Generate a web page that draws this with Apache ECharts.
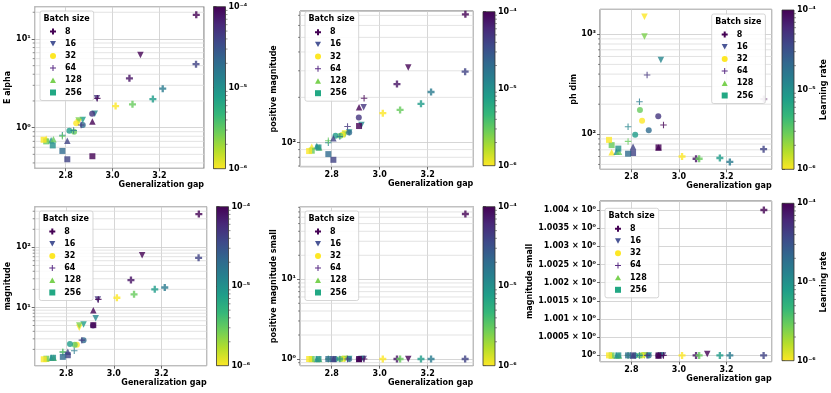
<!DOCTYPE html>
<html>
<head>
<meta charset="utf-8">
<script src="https://cdn.jsdelivr.net/npm/echarts@6/dist/echarts.min.js"></script>
<style>
html, body { margin: 0; padding: 0; background: #fff; }
#main { width: 831px; height: 393px; }
</style>
</head>
<body>
<div id="main"></div>
<script>
// one entry per training run
const gap = [3.357, 3.356, 3.072, 3.214, 3.172, 3.085, 3.013,
    3.119, 2.933, 2.924, 2.873, 2.855, 2.855,
    2.913, 2.873, 2.845, 2.836, 2.816,
    2.935, 2.866, 2.834, 2.786, 2.786,
    2.914, 2.807, 2.717, 2.738, 2.748,
    2.914, 2.807, 2.786, 2.745, 2.717, 2.706]
const batch = [8, 8, 8, 8, 8, 8, 8,
    16, 16, 16, 16, 16, 16,
    32, 32, 32, 32, 32,
    64, 64, 64, 64, 64,
    128, 128, 128, 128, 128,
    256, 256, 256, 256, 256, 256]
const lr = [1e-4, 4e-5, 8e-5, 1.5e-5, 8e-6, 3e-6, 1e-6,
    1e-4, 5e-5, 1.2e-5, 8e-6, 1e-6, 2.5e-6,
    5e-5, 2e-5, 1e-6, 3e-6, 8e-6,
    1e-4, 5e-5, 1.5e-5, 1.2e-5, 3e-6,
    1e-4, 4e-5, 1e-6, 1e-5, 3e-6,
    1e-4, 4e-5, 2e-5, 1e-5, 3e-6, 1e-6]
const eAlpha = [18.7, 5.2, 3.6, 2.75, 2.1, 1.83, 1.75,
    6.6, 2.15, 1.43, 1.22, 1.15, 1.2,
    1.43, 1.07, 1.12, 0.9, 0.925,
    2.14, 1.07, 0.93, 0.82, 0.8,
    1.17, 0.71, 0.75, 0.72, 0.74,
    0.476, 0.44, 0.546, 0.63, 0.7, 0.73]
const posMag = [711, 296, 245, 217, 181, 165, 157,
    316, 172, 131, 117, 115, 113,
    147, 117, 113, 111, 111,
    197, 128, 110, 100, 103,
    172, 107, 94, 95, 93,
    129, 77, 84, 93, 88.5, 88]
const phDim = [225, 71, 57, 53, 58, 57, 60,
    40, 40, 554, 40, 1500, 950,
    152, 110, 137, 175, 99,
    124, 392, 212, 119, 85,
    74, 75, 66, 67, 67,
    74, 65, 64, 72, 78, 88]
const magnitude = [359, 67, 28.5, 21.5, 20, 16.5, 14.5,
    74, 13.6, 6.6, 5.2, 4.6, 5.0,
    5.0, 2.85, 2.4, 2.4, 2.45,
    13.6, 2.85, 1.9, 1.8, 1.82,
    9.0, 1.82, 1.4, 1.45, 1.45,
    5.07, 1.6, 1.5, 1.45, 1.4, 1.37]
const posMagSmall = [66, 1, 1, 1, 1, 1, 1,
    1, 1, 1, 1, 1, 1,
    1, 1, 1, 1, 1,
    1, 1, 1, 1, 1,
    1, 1, 1, 1, 1,
    1, 1, 1, 1, 1, 1]
const magSmall = [1.004, 1, 1, 1, 1, 1, 1,
    1.00004, 1, 1, 1, 1, 1,
    1, 1, 1, 1, 1,
    1, 1, 1, 1, 1,
    1, 1, 1, 1, 1,
    1, 1, 1, 1, 1, 1]

const batchSizes = [8, 16, 32, 64, 128, 256]
const gapRange = [2.668, 3.39]
const lrRange = [1e-6, 1e-4]

const FONT = 'DejaVu Sans'
const viridis = ['#440154', '#482878', '#3e4989', '#31688e', '#26828e', '#1f9e89', '#35b779', '#6ece58', '#b5de2b', '#fde725']
const legendColors = ['#440154', '#4a5696', '#fde725', '#5b2d86', '#7ad151', '#22a884']
const symbols = {
    8: 'path://M4,0H8V4H12V8H8V12H4V8H0V4H4Z',
    16: 'path://M0,0H10L5,9Z',
    32: 'circle',
    64: 'path://M5,0H7V5H12V7H7V12H5V7H0V5H5Z',
    128: 'path://M5,0L10,9H0Z',
    256: 'rect'
}
const sizes = { 8: 7, 16: 6.5, 32: 6, 64: 6.5, 128: 6.5, 256: 6 }

const panels = [
    { name: 'E alpha', values: eAlpha, grid: [34.7, 6.7, 169.3, 161.6], y: [0.348, 23.1], legend: [40, 11], bar: [213.5, 6.7, 12, 162], nameGap: 22 },
    { name: 'positive magnitude', values: posMag, grid: [300, 11, 173.3, 155.7], y: [69.3, 748], legend: [305, 11.7], bar: [483, 11.7, 12, 154], nameGap: 22 },
    { name: 'ph dim', values: phDim, grid: [600, 9.3, 171.7, 160], y: [44.7, 1778], legend: [711.7, 14], bar: [782, 10, 12, 159.3], nameGap: 22, barName: 'Learning rate', faded: [0] },
    { name: 'magnitude', values: magnitude, grid: [34.7, 206.7, 172, 159], y: [1.07, 476], legend: [39.3, 211], bar: [216.5, 206.7, 12, 159], nameGap: 23 },
    { name: 'positive magnitude small', values: posMagSmall, grid: [300, 206.7, 173.3, 159], y: [0.824, 81.4], legend: [305, 211], bar: [483, 206.7, 12, 159], nameGap: 21 },
    { name: 'magnitude small', values: magSmall, grid: [600, 201, 171.7, 160.7], y: [0.999826, 1.004248], linear: true, legend: [605, 208.3], bar: [782, 203.3, 12, 157.4], nameGap: 64, barName: 'Learning rate' }
]

const SUP = { '-': '⁻', '0': '⁰', '1': '¹', '2': '²', '3': '³', '4': '⁴', '5': '⁵', '6': '⁶', '7': '⁷', '8': '⁸', '9': '⁹' }
function sup(n) {
    return String(n).split('').map(c => SUP[c]).join('')
}
function logLabel(v) {
    return '10' + sup(Math.round(Math.log10(v)))
}
function minorValues(lo, hi) {
    let out = []
    for (let e = Math.floor(Math.log10(lo)); e <= Math.ceil(Math.log10(hi)); e++) {
        for (let m = 2; m <= 9; m++) {
            let v = m * Math.pow(10, e)
            if (v > lo && v < hi) out.push(v)
        }
    }
    return out
}

const labelStyle = { fontFamily: FONT, fontWeight: 'bold', fontSize: 8, color: '#000' }

let grids = [], xAxes = [], yAxes = [], series = [], legends = [], graphics = [], scatterIdx = []

panels.forEach((p, k) => {
    const g = k * 2, cb = k * 2 + 1
    grids.push({ left: p.grid[0], top: p.grid[1], width: p.grid[2], height: p.grid[3], show: true, borderColor: '#444', borderWidth: 0.8, backgroundColor: '#fff' })
    grids.push({ left: p.bar[0], top: p.bar[1], width: p.bar[2], height: p.bar[3] })

    xAxes.push({
        gridIndex: g, type: 'value', min: gapRange[0], max: gapRange[1], splitNumber: 3,
        name: 'Generalization gap', nameLocation: 'end', nameGap: 0,
        nameTextStyle: Object.assign({ align: 'right', verticalAlign: 'top', padding: [13, 0, 0, 0] }, labelStyle),
        axisLine: { show: false },
        axisTick: { show: true, length: 3, lineStyle: { color: '#444', width: 0.8 } },
        axisLabel: Object.assign({ margin: 4, showMinLabel: false, showMaxLabel: false, formatter: v => v.toFixed(1) }, labelStyle),
        splitLine: { show: true, lineStyle: { color: '#cccccc', width: 0.8 } }
    })
    xAxes.push({ gridIndex: cb, type: 'value', min: 0, max: 1, show: false })

    let yAxis = {
        gridIndex: g, min: p.y[0], max: p.y[1],
        name: p.name, nameLocation: 'middle', nameGap: p.nameGap,
        nameTextStyle: labelStyle,
        axisLine: { show: false },
        axisTick: { show: true, length: 3, lineStyle: { color: '#444', width: 0.8 } },
        axisLabel: Object.assign({ margin: 4, showMinLabel: false, showMaxLabel: false }, labelStyle),
        splitLine: { show: true, lineStyle: { color: '#cccccc', width: 0.8 } }
    }
    if (p.linear) {
        yAxis.type = 'value'
        yAxis.splitNumber = 9
        yAxis.axisLabel.formatter = v => {
            let r = +v.toFixed(5)
            return r === 1 ? '10⁰' : r + ' × 10⁰'
        }
    } else {
        yAxis.type = 'log'
        yAxis.logBase = 10
        yAxis.axisLabel.formatter = logLabel
    }
    yAxes.push(yAxis)
    yAxes.push({
        gridIndex: cb, type: 'log', logBase: 10, min: lrRange[0], max: lrRange[1], position: 'right',
        name: p.barName || '', nameLocation: 'middle', nameGap: 24, nameRotate: 90,
        nameTextStyle: labelStyle,
        axisLine: { show: false },
        axisTick: { show: true, length: 3, lineStyle: { color: '#444', width: 0.8 } },
        axisLabel: Object.assign({ margin: 3, formatter: logLabel }, labelStyle),
        splitLine: { show: false }
    })

    // minor grid lines and ticks of the log axes
    if (!p.linear) {
        series.push({
            type: 'custom', xAxisIndex: g, yAxisIndex: g, silent: true, z: 1,
            data: minorValues(p.y[0], p.y[1]).map(v => [gapRange[0], v]),
            renderItem: (params, api) => {
                let a = api.coord([gapRange[0], api.value(1)])
                let b = api.coord([gapRange[1], api.value(1)])
                return {
                    type: 'group', children: [
                        { type: 'line', shape: { x1: a[0], y1: a[1], x2: b[0], y2: b[1] }, style: { stroke: '#dcdcdc', lineWidth: 0.8 } },
                        { type: 'line', shape: { x1: a[0] - 2, y1: a[1], x2: a[0], y2: a[1] }, style: { stroke: '#444', lineWidth: 0.6 } }
                    ]
                }
            }
        })
    }

    batchSizes.forEach(b => {
        let data = []
        gap.forEach((x, i) => {
            if (batch[i] !== b) return
            let item = { value: [x, p.values[i], Math.log10(lr[i])] }
            if (p.faded && p.faded.includes(i)) item.itemStyle = { opacity: 0.35 }
            data.push(item)
        })
        scatterIdx.push(series.length)
        series.push({
            type: 'scatter', name: String(b), xAxisIndex: g, yAxisIndex: g, z: 3,
            symbol: symbols[b], symbolSize: sizes[b], data: data
        })
    })

    // colour bar
    series.push({
        type: 'custom', xAxisIndex: cb, yAxisIndex: cb, silent: true,
        data: [[0, lrRange[0]]],
        renderItem: (params, api) => {
            let a = api.coord([0, lrRange[1]])
            let b = api.coord([1, lrRange[0]])
            return {
                type: 'rect',
                shape: { x: a[0], y: a[1], width: b[0] - a[0], height: b[1] - a[1] },
                style: {
                    fill: new echarts.graphic.LinearGradient(0, 0, 0, 1, viridis.map((c, j) => ({ offset: j / (viridis.length - 1), color: c }))),
                    stroke: '#333', lineWidth: 0.8
                }
            }
        }
    })
    series.push({
        type: 'custom', xAxisIndex: cb, yAxisIndex: cb, silent: true,
        data: minorValues(lrRange[0], lrRange[1]).map(v => [1, v]),
        renderItem: (params, api) => {
            let a = api.coord([1, api.value(1)])
            return { type: 'line', shape: { x1: a[0], y1: a[1], x2: a[0] + 2, y2: a[1] }, style: { stroke: '#444', lineWidth: 0.6 } }
        }
    })

    legends.push({
        left: p.legend[0], top: p.legend[1], orient: 'vertical',
        itemWidth: 6, itemHeight: 6, itemGap: 2.2,
        padding: [15.5, 12, 3, 10],
        backgroundColor: 'rgba(255,255,255,0.85)', borderColor: '#cccccc', borderWidth: 0.8, borderRadius: 2,
        selectedMode: false,
        textStyle: Object.assign({ lineHeight: 10, padding: [0, 0, 0, 4] }, labelStyle),
        data: batchSizes.map((b, j) => ({ name: String(b), icon: symbols[b], itemStyle: { color: legendColors[j], opacity: 1 } }))
    })
    graphics.push({
        type: 'text', left: p.legend[0] + 3.5, top: p.legend[1] + 3.5, z: 100,
        style: { text: 'Batch size', font: 'bold 8px "DejaVu Sans"', fill: '#000' }
    })
})

const chart = echarts.init(document.getElementById('main'))
chart.setOption({
    animation: false,
    backgroundColor: '#fff',
    grid: grids,
    xAxis: xAxes,
    yAxis: yAxes,
    legend: legends,
    graphic: graphics,
    visualMap: {
        show: false, type: 'continuous', dimension: 2, min: -6, max: -4,
        seriesIndex: scatterIdx,
        inRange: { color: viridis.slice().reverse() }
    },
    series: series
})
</script>
</body>
</html>
